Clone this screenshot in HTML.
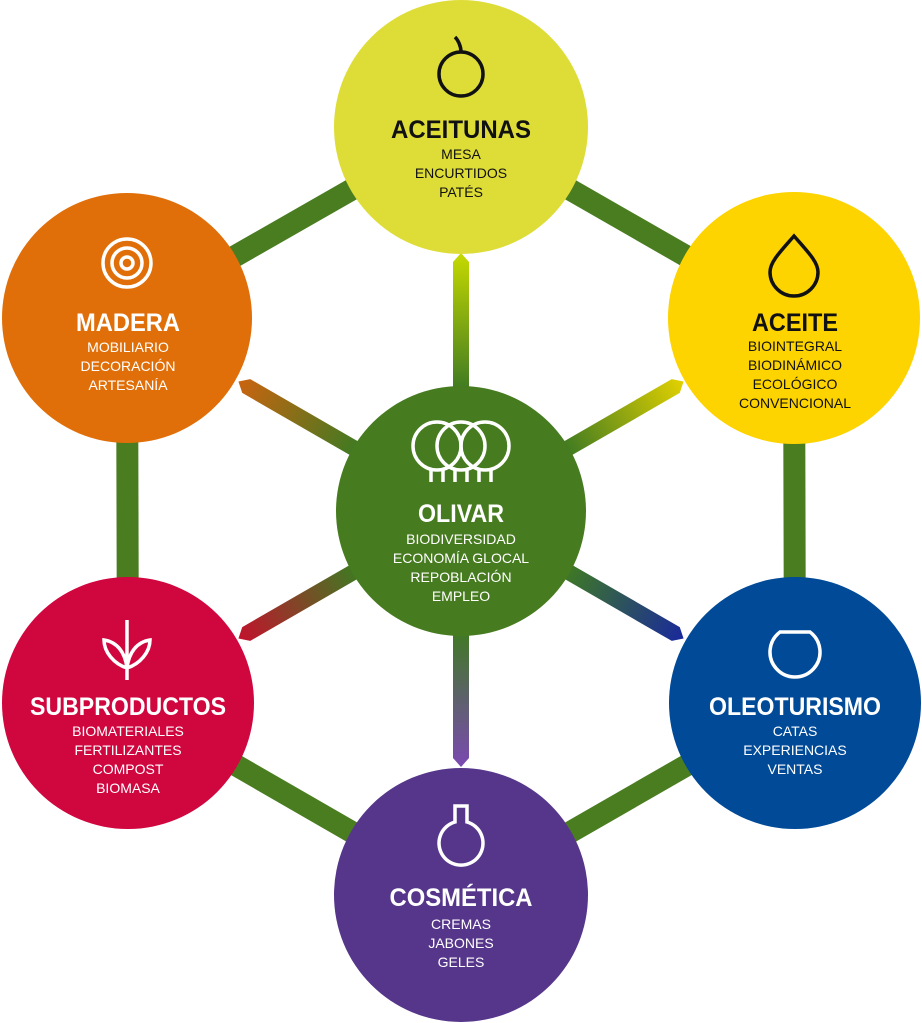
<!DOCTYPE html>
<html><head><meta charset="utf-8"><style>
html,body{margin:0;padding:0;background:#fff;}
svg{display:block}
.t{font-family:"Liberation Sans",sans-serif;font-weight:bold;font-size:25px;fill:#fff;text-anchor:middle}
.s{font-family:"Liberation Sans",sans-serif;font-size:14px;fill:#fff;text-anchor:middle}
.k{fill:#111}
.ic{fill:none;stroke:#fff;stroke-width:3.5}
</style></head><body>
<svg width="922" height="1023" viewBox="0 0 922 1023">
<defs>
<linearGradient id="g1" gradientUnits="userSpaceOnUse" x1="461" y1="390" x2="461" y2="255"><stop offset="0" stop-color="#3f7a22"/><stop offset="1" stop-color="#c4d800"/></linearGradient>
<linearGradient id="g2" gradientUnits="userSpaceOnUse" x1="461" y1="390" x2="461" y2="255"><stop offset="0" stop-color="#3f7a22"/><stop offset="1" stop-color="#c86410"/></linearGradient>
<linearGradient id="g3" gradientUnits="userSpaceOnUse" x1="461" y1="390" x2="461" y2="255"><stop offset="0" stop-color="#3f7a22"/><stop offset="1" stop-color="#e0d000"/></linearGradient>
<linearGradient id="g4" gradientUnits="userSpaceOnUse" x1="461" y1="390" x2="461" y2="255"><stop offset="0" stop-color="#3f7a22"/><stop offset="1" stop-color="#c0142c"/></linearGradient>
<linearGradient id="g5" gradientUnits="userSpaceOnUse" x1="461" y1="390" x2="461" y2="255"><stop offset="0" stop-color="#3f7a22"/><stop offset="1" stop-color="#1a2a9a"/></linearGradient>
<linearGradient id="g6" gradientUnits="userSpaceOnUse" x1="461" y1="390" x2="461" y2="255"><stop offset="0" stop-color="#3f7a22"/><stop offset="1" stop-color="#7a4ab0"/></linearGradient>
</defs>
<g stroke="#4a7d20" stroke-width="22" fill="none">
<polyline points="461,127 794,318 795,703 461,895 128,703 127,318 461,127"/>
</g>
<polygon points="453,390 453,262 461,253 469,262 469,390" fill="url(#g1)"/>
<polygon points="453,390 453,262 461,253 469,262 469,390" fill="url(#g2)" transform="rotate(-60 461 510)"/>
<polygon points="453,390 453,262 461,253 469,262 469,390" fill="url(#g3)" transform="rotate(60 461 510)"/>
<polygon points="453,390 453,262 461,253 469,262 469,390" fill="url(#g4)" transform="rotate(-120 461 510)"/>
<polygon points="453,390 453,262 461,253 469,262 469,390" fill="url(#g5)" transform="rotate(120 461 510)"/>
<polygon points="453,390 453,262 461,253 469,262 469,390" fill="url(#g6)" transform="rotate(180 461 510)"/>
<circle cx="461" cy="127" r="127" fill="#dedd38"/>
<circle cx="127" cy="318" r="125" fill="#e06f0a"/>
<circle cx="794" cy="318" r="126" fill="#fdd300"/>
<circle cx="128" cy="703" r="126" fill="#d0063f"/>
<circle cx="795" cy="703" r="126" fill="#004a97"/>
<circle cx="461" cy="895" r="127" fill="#56368a"/>
<circle cx="461" cy="511" r="125" fill="#467b1f"/>
<g fill="none" stroke="#111" stroke-width="3.5">
<circle cx="461" cy="74" r="22"/><path d="M461 52 C461 46 458 40 455 37"/>
<path d="M794 236 C780 252 770 262 770 272 A24 24 0 0 0 818 272 C818 262 808 252 794 236 Z"/>
</g>
<g class="ic">
<circle cx="127" cy="263" r="24"/><circle cx="127" cy="263" r="15"/><circle cx="127" cy="263" r="6"/>
<circle cx="437" cy="446" r="24"/><circle cx="461" cy="446" r="24"/><circle cx="485" cy="446" r="24"/>
<path d="M431 469 V482 M443 469 V482 M455 469 V482 M467 469 V482 M479 469 V482 M491 469 V482"/>
<path d="M127 620 V680 M127 668 C140 664 150 652 150 640 C137 642 129 652 127 668 M127 668 C114 664 104 652 104 640 C117 642 125 652 127 668"/>
<path d="M780 632 H810 A25 25 0 1 1 780 632 Z"/>
<path d="M455 806 H467 V822 A22 22 0 1 1 455 822 Z"/>
</g>
<text class="t k" x="461" y="138" textLength="140" lengthAdjust="spacingAndGlyphs">ACEITUNAS</text>
<text class="s k" x="461" y="159">MESA</text>
<text class="s k" x="461" y="178">ENCURTIDOS</text>
<text class="s k" x="461" y="197">PATÉS</text>
<text class="t" x="128" y="331" textLength="104" lengthAdjust="spacingAndGlyphs">MADERA</text>
<text class="s" x="128" y="352">MOBILIARIO</text>
<text class="s" x="128" y="371">DECORACIÓN</text>
<text class="s" x="128" y="390">ARTESANÍA</text>
<text class="t k" x="795" y="331" textLength="86" lengthAdjust="spacingAndGlyphs">ACEITE</text>
<text class="s k" x="795" y="351">BIOINTEGRAL</text>
<text class="s k" x="795" y="370">BIODINÁMICO</text>
<text class="s k" x="795" y="389">ECOLÓGICO</text>
<text class="s k" x="795" y="408">CONVENCIONAL</text>
<text class="t" x="461" y="522" textLength="86" lengthAdjust="spacingAndGlyphs">OLIVAR</text>
<text class="s" x="461" y="544">BIODIVERSIDAD</text>
<text class="s" x="461" y="563">ECONOMÍA GLOCAL</text>
<text class="s" x="461" y="582">REPOBLACIÓN</text>
<text class="s" x="461" y="601">EMPLEO</text>
<text class="t" x="128" y="715" textLength="196" lengthAdjust="spacingAndGlyphs">SUBPRODUCTOS</text>
<text class="s" x="128" y="736">BIOMATERIALES</text>
<text class="s" x="128" y="755">FERTILIZANTES</text>
<text class="s" x="128" y="774">COMPOST</text>
<text class="s" x="128" y="793">BIOMASA</text>
<text class="t" x="795" y="715" textLength="172" lengthAdjust="spacingAndGlyphs">OLEOTURISMO</text>
<text class="s" x="795" y="736">CATAS</text>
<text class="s" x="795" y="755">EXPERIENCIAS</text>
<text class="s" x="795" y="774">VENTAS</text>
<text class="t" x="461" y="906" textLength="143" lengthAdjust="spacingAndGlyphs">COSMÉTICA</text>
<text class="s" x="461" y="929">CREMAS</text>
<text class="s" x="461" y="948">JABONES</text>
<text class="s" x="461" y="967">GELES</text>
</svg>
</body></html>
